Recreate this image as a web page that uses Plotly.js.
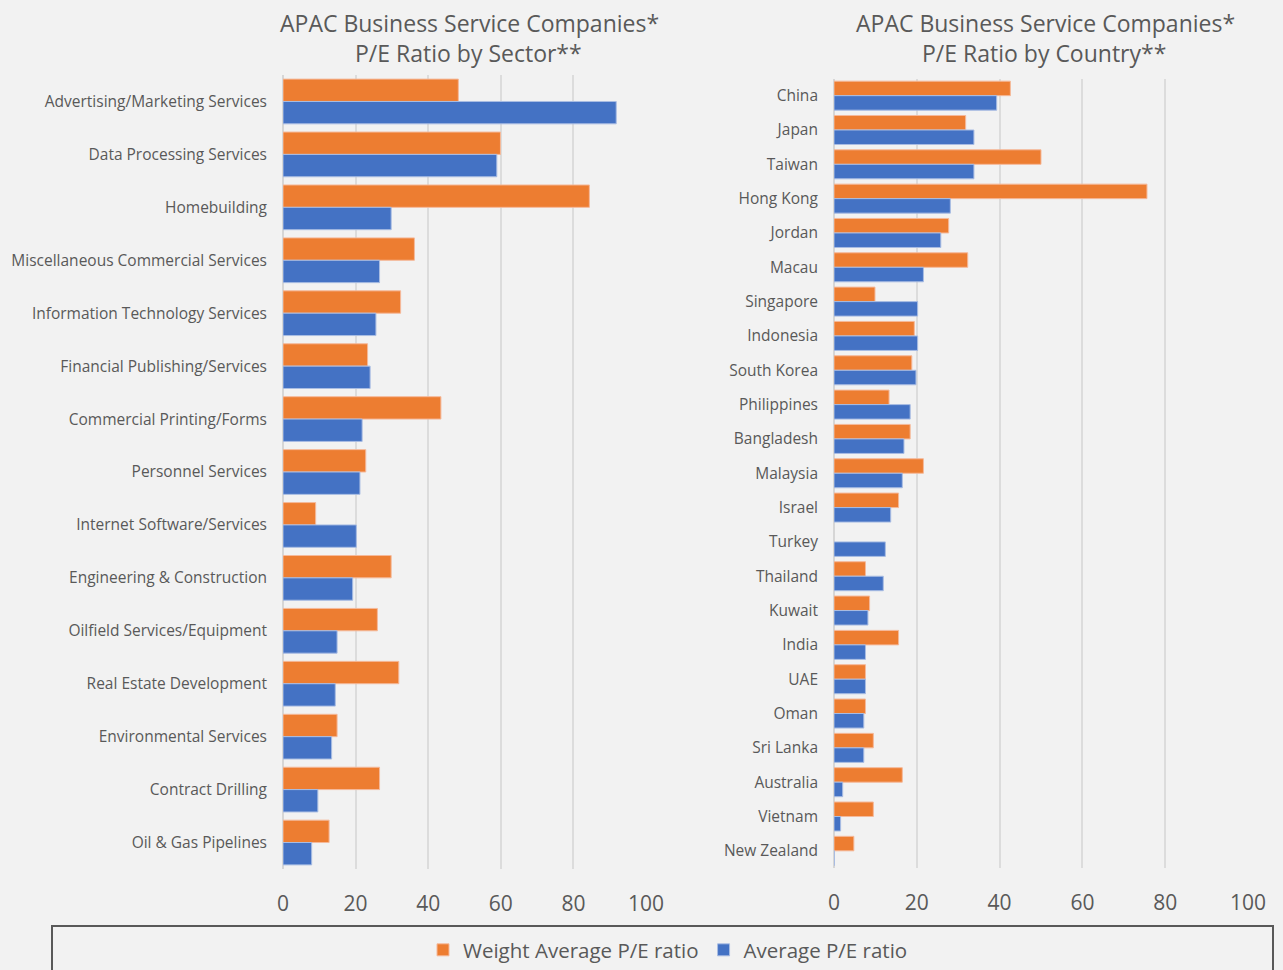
<!DOCTYPE html>
<html>
<head>
<meta charset="utf-8">
<script src="https://cdn.plot.ly/plotly-3.0.1.min.js"></script>
<style>html,body{margin:0;padding:0;background:#f2f2f2;}#chart{width:1283px;height:970px;}</style>
</head>
<body>
<div id="chart"></div>
<script>
const sectors = ["Advertising/Marketing Services","Data Processing Services","Homebuilding","Miscellaneous Commercial Services","Information Technology Services","Financial Publishing/Services","Commercial Printing/Forms","Personnel Services","Internet Software/Services","Engineering & Construction","Oilfield Services/Equipment","Real Estate Development","Environmental Services","Contract Drilling","Oil & Gas Pipelines"];
const sectorWeighted = [48.3, 59.9, 84.4, 36.2, 32.4, 23.3, 43.5, 22.8, 9.0, 29.8, 26.0, 31.9, 14.9, 26.6, 12.7];
const sectorAverage = [91.8, 58.9, 29.8, 26.6, 25.6, 24.0, 21.8, 21.2, 20.2, 19.2, 14.9, 14.4, 13.4, 9.6, 7.9];

const countries = ["China","Japan","Taiwan","Hong Kong","Jordan","Macau","Singapore","Indonesia","South Korea","Philippines","Bangladesh","Malaysia","Israel","Turkey","Thailand","Kuwait","India","UAE","Oman","Sri Lanka","Australia","Vietnam","New Zealand"];
const countryWeighted = [42.6, 31.8, 50.0, 75.6, 27.7, 32.3, 9.9, 19.4, 18.8, 13.3, 18.4, 21.6, 15.6, null, 7.6, 8.6, 15.6, 7.6, 7.6, 9.5, 16.5, 9.5, 4.8];
const countryAverage = [39.3, 33.8, 33.8, 28.1, 25.8, 21.6, 20.2, 20.2, 19.8, 18.4, 16.9, 16.5, 13.7, 12.4, 11.9, 8.2, 7.6, 7.6, 7.2, 7.2, 2.1, 1.6, 0.1];

const xTicks = [0, 20, 40, 60, 80, 100];
const seriesNames = ["Weight Average P/E ratio", "Average P/E ratio"];
const ORANGE = "#ED7D31", BLUE = "#4472C4", TXT = "#595959";
const W = 1283, H = 970;
const px = v => v / W, py = v => 1 - v / H;

const traces = [
  {type:"bar", orientation:"h", name:seriesNames[0], x:sectorWeighted, y:sectors, xaxis:"x", yaxis:"y",
   marker:{color:ORANGE, line:{color:"#f5b99a", width:1}}, legendrank:1},
  {type:"bar", orientation:"h", name:seriesNames[1], x:sectorAverage, y:sectors, xaxis:"x", yaxis:"y",
   marker:{color:BLUE, line:{color:"#a9bde3", width:1}}, legendrank:2},
  {type:"bar", orientation:"h", name:seriesNames[0], x:countryWeighted, y:countries, xaxis:"x2", yaxis:"y2",
   marker:{color:ORANGE, line:{color:"#f5b99a", width:1}}, showlegend:false},
  {type:"bar", orientation:"h", name:seriesNames[1], x:countryAverage, y:countries, xaxis:"x2", yaxis:"y2",
   marker:{color:BLUE, line:{color:"#a9bde3", width:1}}, showlegend:false}
];

const font = {family:"Open Sans, sans-serif", color:TXT};
const xCommon = {range:[0,100], tickvals:xTicks, ticktext:xTicks.map(String), showgrid:true, gridcolor:"#dcdcdc", gridwidth:1.5,
  zeroline:true, zerolinecolor:"#d6d6d6", zerolinewidth:1.5, showline:false, ticks:"", ticklabelstandoff:20,
  tickfont:{family:font.family, size:21, color:TXT}, fixedrange:true};
const yCommon = {type:"category", autorange:"reversed", showgrid:false, zeroline:false, showline:false, ticks:"",
  ticklabelstandoff:15, tickfont:{family:font.family, size:15.5, color:TXT}, fixedrange:true};

const layout = {
  width:W, height:H, margin:{l:0, r:0, t:0, b:0, autoexpand:false},
  paper_bgcolor:"#f2f2f2", plot_bgcolor:"#f2f2f2", font:font,
  barmode:"group", bargap:0.155, bargroupgap:0,
  showlegend:true,
  legend:{orientation:"h", x:px(668), xanchor:"center", y:py(950), yanchor:"middle",
    font:{family:font.family, size:20.5, color:TXT}, bgcolor:"rgba(0,0,0,0)", traceorder:"normal", itemwidth:30},
  xaxis:Object.assign({}, xCommon, {domain:[px(283), px(646)], anchor:"y"}),
  yaxis:Object.assign({}, yCommon, {domain:[py(869), py(75)], anchor:"x"}),
  xaxis2:Object.assign({}, xCommon, {domain:[px(834), px(1248)], anchor:"y2"}),
  yaxis2:Object.assign({}, yCommon, {domain:[py(868), py(78.5)], anchor:"x2"}),
  shapes:[{type:"rect", xref:"paper", yref:"paper", x0:px(52), x1:px(1273), y0:py(926), y1:py(1000),
    line:{color:"#595959", width:2}, fillcolor:"rgba(0,0,0,0)"}],
  annotations:[
    {text:"APAC Business Service Companies*", x:px(469), y:py(23), xref:"paper", yref:"paper", showarrow:false, xanchor:"center", yanchor:"middle", font:{family:font.family, size:23, color:TXT}},
    {text:"P/E Ratio by Sector**", x:px(468), y:py(53), xref:"paper", yref:"paper", showarrow:false, xanchor:"center", yanchor:"middle", font:{family:font.family, size:23, color:TXT}},
    {text:"APAC Business Service Companies*", x:px(1045), y:py(23), xref:"paper", yref:"paper", showarrow:false, xanchor:"center", yanchor:"middle", font:{family:font.family, size:23, color:TXT}},
    {text:"P/E Ratio by Country**", x:px(1044), y:py(53), xref:"paper", yref:"paper", showarrow:false, xanchor:"center", yanchor:"middle", font:{family:font.family, size:23, color:TXT}}
  ]
};

Plotly.newPlot("chart", traces, layout, {displayModeBar:false, responsive:false});
</script>
</body>
</html>
